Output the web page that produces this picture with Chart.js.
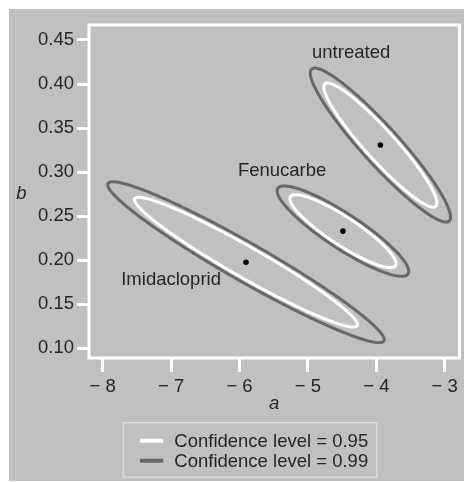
<!DOCTYPE html>
<html>
<head>
<meta charset="utf-8">
<script src="https://cdn.jsdelivr.net/npm/chart.js@4"></script>
<style>
html, body { margin: 0; padding: 0; background: #fff; }
#wrap { position: absolute; left: 9px; top: 9px; width: 455px; height: 472px; background: #c0c0c0; }
</style>
</head>
<body>
<div id="wrap"><canvas id="c" width="455" height="472"></canvas></div>
<script>
// groups and their estimates (a, b) with spread read off the ellipses
const groups = ['untreated', 'Fenucarbe', 'Imidacloprid'];
const centerA = [-3.94, -4.488, -5.905];
const centerB = [0.3307, 0.2330, 0.1977];
const sdA = [0.338, 0.317, 0.666];
const sdB = [0.0288, 0.0169, 0.0301];
const corrAB = [-0.935, -0.89, -0.962];

// where the group names sit
const labelA = [-4.368, -5.377, -7.0];
const labelB = [0.4352, 0.3013, 0.1775];

const levels = [0.95, 0.99];
const chi2 = [5.991, 9.210]; // chi-square quantiles, 2 df
const levelColors = ['#ffffff', '#686868'];

const xTicks = [-8, -7, -6, -5, -4, -3];
const xTickLabels = ['\u2212 8', '\u2212 7', '\u2212 6', '\u2212 5', '\u2212 4', '\u2212 3'];
const yTicks = [0.10, 0.15, 0.20, 0.25, 0.30, 0.35, 0.40, 0.45];
const yTickLabels = ['0.10', '0.15', '0.20', '0.25', '0.30', '0.35', '0.40', '0.45'];

const FONT = "'Liberation Sans', Arial, sans-serif";
const TEXT = '#262626';

function ellipse(i, k) {
    const pts = [];
    const r = corrAB[i];
    for (let t = 0; t <= 160; t++) {
        const th = t / 160 * 2 * Math.PI;
        const u = Math.cos(th), v = Math.sin(th);
        pts.push({
            x: centerA[i] + k * sdA[i] * u,
            y: centerB[i] + k * sdB[i] * (r * u + Math.sqrt(1 - r * r) * v)
        });
    }
    return pts;
}

const datasets = [];
levels.forEach((lv, j) => {
    groups.forEach((g, i) => {
        datasets.push({
            label: 'Confidence level = ' + lv.toFixed(2),
            data: ellipse(i, Math.sqrt(chi2[j])),
            showLine: true,
            borderColor: levelColors[j],
            borderWidth: 3,
            borderJoinStyle: 'round',
            borderCapStyle: 'round',
            tension: 0.1,
            pointRadius: 0,
            fill: false
        });
    });
});
datasets.push({
    label: 'estimate',
    data: groups.map((g, i) => ({x: centerA[i], y: centerB[i]})),
    pointRadius: 2.8,
    backgroundColor: '#000',
    borderWidth: 0
});

const decor = {
    id: 'decor',
    afterDraw(chart) {
        const ctx = chart.ctx;
        const area = chart.chartArea;
        const xs = chart.scales.x, ys = chart.scales.y;
        ctx.save();
        // white frame
        ctx.strokeStyle = '#fff';
        ctx.lineWidth = 3;
        ctx.strokeRect(area.left, area.top, area.right - area.left, area.bottom - area.top);

        ctx.fillStyle = TEXT;
        ctx.font = '18.5px ' + FONT;
        ctx.textAlign = 'center';
        ctx.textBaseline = 'middle';
        groups.forEach((g, i) => {
            ctx.fillText(g, xs.getPixelForValue(labelA[i]), ys.getPixelForValue(labelB[i]));
        });

        // axis titles
        ctx.font = 'italic 18.5px ' + FONT;
        ctx.textBaseline = 'alphabetic';
        ctx.fillText('a', (area.left + area.right) / 2, 400);
        ctx.fillText('b', 12.5, 190);

        // legend
        const bx = 114.3, by = 413.7, bw = 253.4, bh = 54.6;
        ctx.strokeStyle = '#dadada';
        ctx.lineWidth = 1.5;
        ctx.strokeRect(bx, by, bw, bh);
        ctx.font = '18.5px ' + FONT;
        ctx.textAlign = 'left';
        ctx.textBaseline = 'middle';
        levels.forEach((lv, j) => {
            const y = by + 18 + j * 20;
            ctx.strokeStyle = levelColors[j];
            ctx.lineWidth = 4;
            ctx.beginPath();
            ctx.moveTo(bx + 16.7, y);
            ctx.lineTo(bx + 40, y);
            ctx.stroke();
            ctx.fillStyle = TEXT;
            ctx.fillText('Confidence level = ' + lv.toFixed(2), bx + 51, y + 1);
        });
        ctx.restore();
    }
};

new Chart(document.getElementById('c'), {
    type: 'scatter',
    data: { datasets: datasets },
    options: {
        responsive: false,
        animation: false,
        layout: { padding: { left: 0, top: 16, right: 4.5, bottom: 0 } },
        plugins: { legend: { display: false }, tooltip: { enabled: false } },
        scales: {
            x: {
                type: 'linear',
                min: -8.2003,
                max: -2.7836,
                afterBuildTicks: s => { s.ticks = xTicks.map(v => ({value: v})); },
                afterFit: s => { s.height = 123; },
                ticks: {
                    autoSkip: false,
                    maxRotation: 0,
                    padding: 4,
                    color: TEXT,
                    font: { family: FONT, size: 18.5 },
                    callback: v => xTickLabels[xTicks.indexOf(v)]
                },
                grid: { drawOnChartArea: false, color: '#fff', lineWidth: 3, tickLength: 14 },
                border: { display: false }
            },
            y: {
                type: 'linear',
                min: 0.08896,
                max: 0.4670,
                afterBuildTicks: s => { s.ticks = yTicks.map(v => ({value: v})); },
                afterFit: s => { s.width = 80; },
                ticks: {
                    autoSkip: false,
                    padding: 3,
                    color: TEXT,
                    font: { family: FONT, size: 18.5 },
                    callback: v => yTickLabels[yTicks.indexOf(v)]
                },
                grid: { drawOnChartArea: false, color: '#fff', lineWidth: 3, tickLength: 12 },
                border: { display: false }
            }
        }
    },
    plugins: [decor]
});
</script>
</body>
</html>
